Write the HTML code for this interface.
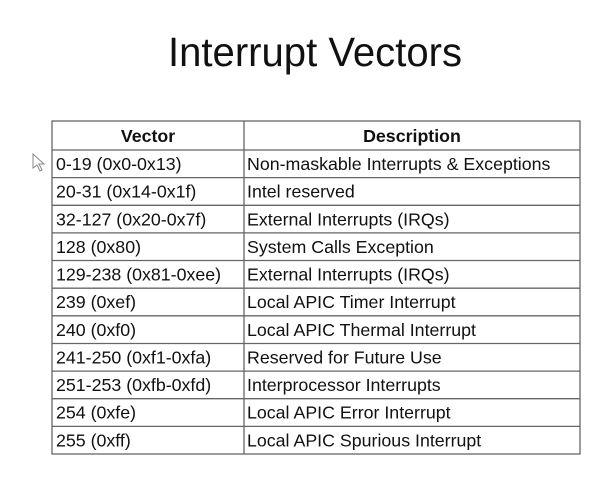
<!DOCTYPE html>
<html><head><style>
html,body{margin:0;padding:0;background:#fff;}
svg{display:block;}
text{font-family:"Liberation Sans",sans-serif;fill:#111;}
</style></head><body>
<svg width="612" height="479" viewBox="0 0 612 479">
<rect width="612" height="479" fill="#fff"/>
<text x="315" y="66" font-size="40.5" text-anchor="middle" textLength="294" lengthAdjust="spacingAndGlyphs">Interrupt Vectors</text>
<path d="M33 154 L33 168 L37 165 L40 171 L42 170 L39 164 L44 164 Z" fill="#fff" stroke="#888" stroke-width="1"/>
<g stroke="#666" stroke-width="1.3" fill="none">
<rect x="52" y="121" width="528" height="333"/>
<line x1="244" y1="121" x2="244" y2="454"/>
<line x1="52" y1="150" x2="580" y2="150"/>
<line x1="52" y1="177.6" x2="580" y2="177.6"/>
<line x1="52" y1="205.3" x2="580" y2="205.3"/>
<line x1="52" y1="232.9" x2="580" y2="232.9"/>
<line x1="52" y1="260.5" x2="580" y2="260.5"/>
<line x1="52" y1="288.2" x2="580" y2="288.2"/>
<line x1="52" y1="315.8" x2="580" y2="315.8"/>
<line x1="52" y1="343.5" x2="580" y2="343.5"/>
<line x1="52" y1="371.1" x2="580" y2="371.1"/>
<line x1="52" y1="398.7" x2="580" y2="398.7"/>
<line x1="52" y1="426.4" x2="580" y2="426.4"/>
</g>
<g font-size="17.8">
<text x="148" y="142" text-anchor="middle" font-weight="bold">Vector</text>
<text x="412" y="142" text-anchor="middle" font-weight="bold">Description</text>
<text x="56" y="170">0-19 (0x0-0x13)</text><text x="247" y="170">Non-maskable Interrupts &amp; Exceptions</text>
<text x="56" y="197.6">20-31 (0x14-0x1f)</text><text x="247" y="197.6">Intel reserved</text>
<text x="56" y="225.3">32-127 (0x20-0x7f)</text><text x="247" y="225.3">External Interrupts (IRQs)</text>
<text x="56" y="252.9">128 (0x80)</text><text x="247" y="252.9">System Calls Exception</text>
<text x="56" y="280.5">129-238 (0x81-0xee)</text><text x="247" y="280.5">External Interrupts (IRQs)</text>
<text x="56" y="308.2">239 (0xef)</text><text x="247" y="308.2">Local APIC Timer Interrupt</text>
<text x="56" y="335.8">240 (0xf0)</text><text x="247" y="335.8">Local APIC Thermal Interrupt</text>
<text x="56" y="363.5">241-250 (0xf1-0xfa)</text><text x="247" y="363.5">Reserved for Future Use</text>
<text x="56" y="391.1">251-253 (0xfb-0xfd)</text><text x="247" y="391.1">Interprocessor Interrupts</text>
<text x="56" y="418.7">254 (0xfe)</text><text x="247" y="418.7">Local APIC Error Interrupt</text>
<text x="56" y="446.4">255 (0xff)</text><text x="247" y="446.4">Local APIC Spurious Interrupt</text>
</g>
</svg>
</body></html>
